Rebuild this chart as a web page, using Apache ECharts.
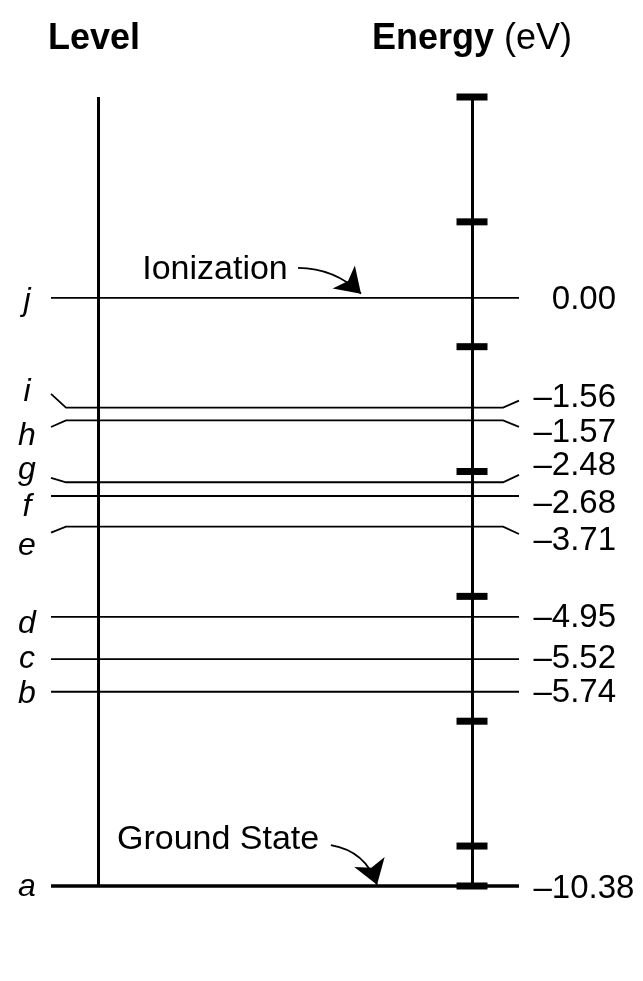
<!DOCTYPE html>
<html>
<head>
<meta charset="utf-8">
<script src="https://cdn.jsdelivr.net/npm/echarts@6/dist/echarts.min.js"></script>
<style>
html,body{margin:0;padding:0;background:#ffffff;}
#chart{width:643px;height:981px;}
</style>
</head>
<body>
<div id="chart"></div>
<script>
// ---------------- data ----------------
const levelNames = ['a', 'b', 'c', 'd', 'e', 'f', 'g', 'h', 'i', 'j'];
const energies = [-10.38, -5.74, -5.52, -4.95, -3.71, -2.68, -2.48, -1.57, -1.56, 0.00];
// placement of each level on the schematic (not-to-scale) diagram axis, in tick spacings
const drawnHeights    = [-0.32, 1.236, 1.498, 1.835, 2.558, 2.804, 2.914, 3.409, 3.512, 4.391];
const leftEndHeights  = [-0.32, 1.236, 1.498, 1.835, 2.510, 2.804, 2.949, 3.357, 3.622, 4.391];
const rightEndHeights = [-0.32, 1.236, 1.498, 1.835, 2.500, 2.804, 2.973, 3.357, 3.568, 4.391];
const letterHeights   = [-0.328, 1.218, 1.500, 1.779, 2.404, 2.716, 3.013, 3.285, 3.638, 4.367];
const valueHeights    = [-0.344, 1.226, 1.498, 1.827, 2.444, 2.740, 3.045, 3.309, 3.590, 4.375];
const axisTicks = [-0.32, 0, 1, 2, 3, 4, 5, 6];
const axisExtent = [-0.32, 6];

// ---------------- layout (diagram width units, 0..100 = span of level lines) ----------------
const LEFT_BEND = 3.2, LEVEL_AXIS = 10.04, ENERGY_AXIS = 89.96, RIGHT_BEND = 96.6;
const LETTER_X = -5.13, VALUE_X = 102.99;
const FONT = '"Liberation Sans", Arial, Helvetica, sans-serif';

const levelLines = levelNames.map((n, i) => ({
  name: n,
  coords: [[0, leftEndHeights[i]], [LEFT_BEND, drawnHeights[i]], [RIGHT_BEND, drawnHeights[i]], [100, rightEndHeights[i]]],
  lineStyle: { width: i === 0 ? 3.4 : 1.8 }
}));

const fmt = v => v === 0 ? '{h|\u2013}0.00' : '\u2013' + Math.abs(v).toFixed(2);

const option = {
  animation: false,
  backgroundColor: '#ffffff',
  title: [
    { text: 'Level', left: 48, top: 21, padding: 0,
      textStyle: { fontFamily: FONT, fontSize: 36, fontWeight: 'bold', color: '#000' } },
    { text: '{b|Energy} (eV)', left: 372, top: 21, padding: 0,
      textStyle: { fontFamily: FONT, fontSize: 36, fontWeight: 'normal', color: '#000',
        rich: { b: { fontFamily: FONT, fontSize: 36, fontWeight: 'bold', color: '#000' } } } }
  ],
  grid: { left: 51, right: 124, top: 97, bottom: 95 },
  xAxis: { type: 'value', min: 0, max: 100, show: false },
  yAxis: { type: 'value', min: axisExtent[0], max: axisExtent[1], show: false },
  series: [
    { // the two vertical axes of the diagram
      type: 'lines', coordinateSystem: 'cartesian2d', clip: false, silent: true,
      lineStyle: { color: '#000', width: 3, opacity: 1 },
      data: [
        { coords: [[LEVEL_AXIS, axisExtent[0]], [LEVEL_AXIS, axisExtent[1]]] },
        { coords: [[ENERGY_AXIS, axisExtent[0]], [ENERGY_AXIS, axisExtent[1]]] }
      ]
    },
    { // energy levels
      type: 'lines', coordinateSystem: 'cartesian2d', polyline: true, clip: false, silent: true,
      lineStyle: { color: '#000', width: 1.8, opacity: 1 },
      data: levelLines
    },
    { // tick marks on the energy axis
      type: 'scatter', clip: false, silent: true,
      symbol: 'rect', symbolSize: [31, 7],
      itemStyle: { color: '#000', opacity: 1 },
      data: axisTicks.map(t => [ENERGY_AXIS, t])
    },
    { // level letters
      type: 'scatter', clip: false, silent: true,
      symbolSize: 1, itemStyle: { color: 'rgba(0,0,0,0)', opacity: 1 },
      label: { show: true, position: 'inside', formatter: p => levelNames[p.dataIndex],
        fontFamily: FONT, fontSize: 32, fontStyle: 'italic', color: '#000' },
      data: levelNames.map((n, i) => [LETTER_X, letterHeights[i]])
    },
    { // energy values
      type: 'scatter', clip: false, silent: true,
      symbolSize: 1, itemStyle: { color: 'rgba(0,0,0,0)', opacity: 1 },
      label: { show: true, position: 'right', distance: 0, formatter: p => fmt(energies[p.dataIndex]),
        fontFamily: FONT, fontSize: 33, color: '#000',
        rich: { h: { fontFamily: FONT, fontSize: 33, color: 'rgba(0,0,0,0)' } } },
      data: energies.map((v, i) => [VALUE_X, valueHeights[i]])
    },
    { // annotation texts
      type: 'scatter', clip: false, silent: true,
      symbolSize: 1, itemStyle: { color: 'rgba(0,0,0,0)', opacity: 1 },
      label: { show: true, position: 'inside', formatter: p => p.name,
        fontFamily: FONT, fontSize: 34, color: '#000' },
      data: [
        { name: 'Ionization', value: [35.04, 4.615] },
        { name: 'Ground State', value: [35.7, 0.048] }
      ]
    },
    { // annotation arrows
      type: 'lines', coordinateSystem: 'cartesian2d', clip: false, silent: true,
      symbol: ['none', 'arrow'], symbolSize: 24,
      lineStyle: { color: '#000', width: 1.8, opacity: 1 },
      data: [
        { coords: [[52.78, 4.631], [66.24, 4.425]], lineStyle: { curveness: 0.2 } },
        { coords: [[59.8, 0.008], [69.66, -0.31]], lineStyle: { curveness: 0.3 } }
      ]
    }
  ]
};

const chart = echarts.init(document.getElementById('chart'), null, { renderer: 'canvas' });
chart.setOption(option);
</script>
</body>
</html>
